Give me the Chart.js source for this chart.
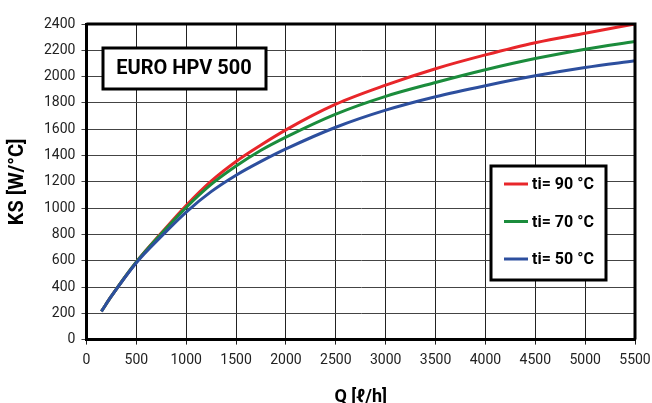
<!DOCTYPE html>
<html>
<head>
<meta charset="utf-8">
<script src="https://cdn.jsdelivr.net/npm/chart.js@4"></script>
<style>
  body { margin: 0; background: #fff; }
  canvas { display: block; }
</style>
</head>
<body>
<canvas id="chart" width="652" height="403"></canvas>
<script>
const FONT = "Roboto, 'Liberation Sans', sans-serif";

const flow = [150, 250, 500, 750, 1000, 1250, 1500, 1750, 2000, 2500, 3000, 3500, 4000, 4500, 5000, 5500];
const ks90 = [215, 330, 590, 810, 1020, 1205, 1355, 1480, 1595, 1790, 1935, 2060, 2165, 2258, 2330, 2400];
const ks70 = [215, 330, 590, 805, 1005, 1180, 1320, 1440, 1540, 1715, 1850, 1955, 2052, 2137, 2208, 2268];
const ks50 = [215, 330, 585, 785, 970, 1125, 1250, 1355, 1450, 1615, 1745, 1847, 1931, 2006, 2069, 2120];
const seriesLabels = ["ti= 90 °C", "ti= 70 °C", "ti= 50 °C"];
const seriesColors = ["#e8262a", "#1b8c3c", "#2d4f9e"];
const chartTitle = "EURO HPV 500";

const toPoints = (xs, ys) => xs.map((x, i) => ({ x: x, y: ys[i] }));

const boxesPlugin = {
  id: "boxes",
  afterDraw(chart) {
    const { ctx, chartArea } = chart;
    ctx.save();

    // thick frame top + right
    ctx.strokeStyle = "#000";
    ctx.lineWidth = 3;
    ctx.beginPath();
    ctx.moveTo(chartArea.left, chartArea.top);
    ctx.lineTo(chartArea.right, chartArea.top);
    ctx.lineTo(chartArea.right, chartArea.bottom);
    ctx.stroke();

    // title box
    ctx.fillStyle = "#fff";
    ctx.fillRect(103, 48, 163, 41);
    ctx.strokeRect(103, 48, 163, 41);
    ctx.fillStyle = "#000";
    ctx.font = "bold 20px " + FONT;
    ctx.textAlign = "center";
    ctx.textBaseline = "middle";
    ctx.fillText(chartTitle, 184, 69);

    // legend box, in order 90 / 70 / 50
    ctx.fillStyle = "#fff";
    ctx.fillRect(491, 166, 115, 114);
    ctx.strokeRect(491, 166, 115, 114);
    ctx.font = "bold 16px " + FONT;
    ctx.textAlign = "left";
    const items = chart.data.datasets.slice().reverse();
    items.forEach((ds, i) => {
      const y = 184 + i * 37.5;
      ctx.strokeStyle = ds.borderColor;
      ctx.lineWidth = 3;
      ctx.beginPath();
      ctx.moveTo(504, y);
      ctx.lineTo(528, y);
      ctx.stroke();
      ctx.fillStyle = "#000";
      ctx.fillText(ds.label, 532, y + 1);
    });
    ctx.restore();
  },
};

new Chart(document.getElementById("chart"), {
  type: "line",
  data: {
    // blue first so it is painted on top, as in the original
    datasets: [ks90, ks70, ks50].map((ys, i) => ({
      label: seriesLabels[i],
      data: toPoints(flow, ys),
      borderColor: seriesColors[i],
      backgroundColor: seriesColors[i],
      borderWidth: 3,
      pointRadius: 0,
      cubicInterpolationMode: "monotone",
    })).reverse(),
  },
  options: {
    responsive: false,
    animation: false,
    layout: { padding: { top: 24, right: 5, left: 6, bottom: -5 } },
    plugins: {
      legend: { display: false },
      tooltip: { enabled: false },
    },
    scales: {
      x: {
        type: "linear",
        min: 0,
        max: 5500,
        afterFit: (scale) => {
          scale.paddingRight = 17;
        },
        ticks: {
          stepSize: 500,
          color: "#222",
          font: { family: FONT, size: 14 },
          padding: 7,
          callback: (v) => String(v),
        },
        grid: { color: "#222", lineWidth: 1, tickLength: 5 },
        border: { color: "#000", width: 3 },
        title: {
          display: true,
          text: "Q [ℓ/h]",
          color: "#000",
          font: { family: FONT, size: 18, weight: "bold" },
          padding: { top: 11, bottom: 0 },
        },
      },
      y: {
        min: 0,
        max: 2400,
        ticks: {
          stepSize: 200,
          color: "#222",
          font: { family: FONT, size: 14 },
          padding: 6,
          callback: (v) => String(v),
        },
        grid: { color: "#444", lineWidth: 1, tickLength: 5 },
        border: { color: "#000", width: 3 },
        title: {
          display: true,
          text: "KS [W/°C]",
          color: "#000",
          font: { family: FONT, size: 20, weight: "bold" },
          padding: { top: 0, bottom: 8 },
        },
      },
    },
  },
  plugins: [boxesPlugin],
});
</script>
</body>
</html>
